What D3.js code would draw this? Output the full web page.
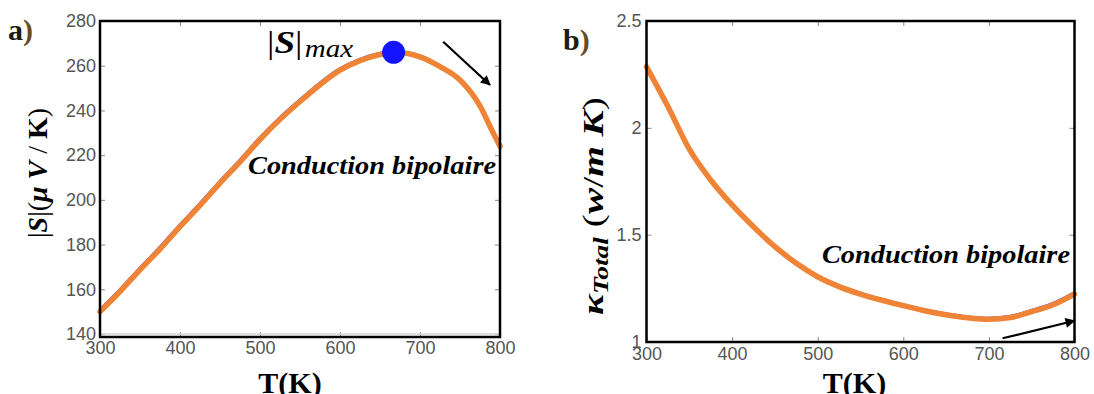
<!DOCTYPE html>
<html>
<head>
<meta charset="utf-8">
<script src="https://cdn.jsdelivr.net/npm/d3@7"></script>
<style>
  body { margin: 0; background: #fff; }
  svg { display: block; }
  .tick text { font-family: "Liberation Sans", Arial, sans-serif; font-size: 18px; fill: #555; }
  .tick line { stroke: #888; stroke-width: 1; }
</style>
</head>
<body>
<svg id="fig" width="1094" height="394"></svg>
<script>
// panel a) |S| vs T
const tempS = [300, 325, 350, 375, 400, 425, 450, 475, 500, 525, 550, 575, 600, 625, 650, 667, 700, 725, 750, 775, 790, 800];
const seebeck = [150, 159, 168.7, 178, 188, 197.5, 207.5, 217, 227, 236, 244, 251.5, 258, 262.3, 265, 266, 264, 259.6, 253.6, 242, 231, 224];
const sMax = [667, 266];
const arrowS = [[729, 270.7], [787.5, 251.4]];

// panel b) kappa total vs T
const tempKappa = [300, 325, 350, 375, 400, 425, 450, 475, 500, 525, 550, 575, 600, 625, 650, 675, 700, 725, 750, 775, 800];
const kappa = [2.286, 2.1, 1.9, 1.756, 1.639, 1.537, 1.444, 1.366, 1.303, 1.257, 1.222, 1.193, 1.168, 1.144, 1.125, 1.111, 1.104, 1.112, 1.14, 1.172, 1.222];
const arrowK = [[716, 1.015], [800, 1.097]];

const xTicks = [300, 400, 500, 600, 700, 800];
const yTicksS = [140, 160, 180, 200, 220, 240, 260, 280];
const yTicksK = [1, 1.5, 2, 2.5];

const svg = d3.select('#fig');
const defs = svg.append('defs');
defs.append('marker')
	.attr('id', 'arrowhead')
	.attr('viewBox', '0 0 10 10')
	.attr('refX', 9).attr('refY', 5)
	.attr('markerWidth', 11).attr('markerHeight', 10)
	.attr('markerUnits', 'userSpaceOnUse')
	.attr('orient', 'auto')
	.append('path')
		.attr('d', 'M0,0 L10,5 L0,10 z')
		.attr('fill', '#000');

const serif = '"Liberation Serif", "Times New Roman", serif';

const drawPanel = (cfg) => {
	const x = d3.scaleLinear().domain([300, 800]).range(cfg.xr);
	const y = d3.scaleLinear().domain(cfg.yd).range(cfg.yr);
	const g = svg.append('g');
	const [x0, x1] = cfg.xr;
	const top = cfg.yr[1], bottom = cfg.frameBottom;

	// ticks (matlab style, pointing inward)
	g.append('g')
		.attr('transform', `translate(0,${bottom})`)
		.call(d3.axisBottom(x).tickValues(xTicks).tickSize(-5).tickPadding(cfg.xPad).tickFormat(d3.format('')))
		.call(a => a.select('.domain').remove());
	g.append('g')
		.attr('transform', `translate(0,${top})`)
		.call(d3.axisTop(x).tickValues(xTicks).tickSize(-5).tickFormat(''))
		.call(a => a.select('.domain').remove());
	g.append('g')
		.attr('transform', `translate(${x0},0)`)
		.call(d3.axisLeft(y).tickValues(cfg.yTicks).tickSize(-5).tickPadding(cfg.yPad).tickFormat(d3.format('')))
		.call(a => a.select('.domain').remove());
	g.append('g')
		.attr('transform', `translate(${x1},0)`)
		.call(d3.axisRight(y).tickValues(cfg.yTicks).tickSize(-5).tickFormat(''))
		.call(a => a.select('.domain').remove());

	if (cfg.grayBase) {
		g.append('line')
			.attr('x1', x0).attr('x2', x1)
			.attr('y1', y(cfg.yd[0])).attr('y2', y(cfg.yd[0]))
			.attr('stroke', '#d4d4d4').attr('stroke-width', 1.5);
	}

	const line = d3.line().x(d => x(d[0])).y(d => y(d[1])).curve(d3.curveMonotoneX);
	const pts = cfg.temps.map((t, i) => [t, cfg.values[i]]);
	g.append('path')
		.attr('d', line(pts))
		.attr('fill', 'none')
		.attr('stroke', '#3a3aff')
		.attr('stroke-width', 2)
		.attr('transform', 'translate(-1,-1.5)');
	g.append('path')
		.attr('d', line(pts))
		.attr('fill', 'none')
		.attr('stroke', '#f08436')
		.attr('stroke-width', 5.5)
		.attr('stroke-linecap', 'round');

	// frame
	g.append('rect')
		.attr('x', x0).attr('y', top)
		.attr('width', x1 - x0).attr('height', bottom - top)
		.attr('fill', 'none')
		.attr('stroke', '#000')
		.attr('stroke-width', 2.5);

	// arrow
	g.append('line')
		.attr('x1', x(cfg.arrow[0][0])).attr('y1', y(cfg.arrow[0][1]))
		.attr('x2', x(cfg.arrow[1][0])).attr('y2', y(cfg.arrow[1][1]))
		.attr('stroke', '#000').attr('stroke-width', 2.2)
		.attr('marker-end', 'url(#arrowhead)');

	// annotation
	g.append('text')
		.attr('x', x(cfg.note[0])).attr('y', y(cfg.note[1]))
		.attr('font-family', serif)
		.attr('font-size', 26)
		.attr('font-weight', 'bold')
		.attr('font-style', 'italic')
		.attr('textLength', 248)
		.attr('lengthAdjust', 'spacingAndGlyphs')
		.text('Conduction bipolaire');

	// x label
	g.append('text')
		.attr('x', (x0 + x1) / 2 + cfg.xLabelShift).attr('y', 393)
		.attr('text-anchor', 'middle')
		.attr('font-family', serif)
		.attr('font-size', 30)
		.attr('font-weight', 'bold')
		.text('T(K)');

	// panel letter
	const letter = svg.append('text')
		.attr('x', cfg.letterPos[0]).attr('y', cfg.letterPos[1])
		.attr('font-family', serif)
		.attr('font-size', 30)
		.attr('font-weight', 'bold')
		.attr('fill', '#1e1a14');
	letter.append('tspan').text(cfg.letter);
	letter.append('tspan').attr('fill', '#6a4a22').text(')');

	return { x, y, g };
};

// ---- panel a
const pa = drawPanel({
	xr: [100, 500], yr: [334, 21], yd: [140, 280], frameBottom: 337,
	yTicks: yTicksS, xPad: 4, yPad: 4, grayBase: true,
	temps: tempS, values: seebeck, arrow: arrowS,
	note: [485, 211.4], xLabelShift: -10,
	letter: 'a', letterPos: [8, 40]
});

pa.g.append('circle')
	.attr('cx', pa.x(sMax[0])).attr('cy', pa.y(sMax[1]))
	.attr('r', 11.5)
	.attr('fill', '#1414ff');

const smaxLabel = pa.g.append('text')
	.attr('x', 267).attr('y', 53)
	.attr('font-family', serif)
	.attr('font-size', 32)
	.attr('textLength', 86)
	.attr('lengthAdjust', 'spacingAndGlyphs');
smaxLabel.append('tspan').text('|');
smaxLabel.append('tspan').attr('font-weight', 'bold').attr('font-style', 'italic').text('S');
smaxLabel.append('tspan').text('|');
smaxLabel.append('tspan').attr('font-style', 'italic').attr('font-size', 25).attr('dy', 4).attr('dx', 2).text('max');

const ylabA = svg.append('text')
	.attr('transform', 'translate(47,173) rotate(-90)')
	.attr('text-anchor', 'middle')
	.attr('font-family', serif)
	.attr('font-size', 28)
	.attr('font-weight', 'bold')
	.attr('textLength', 130)
	.attr('lengthAdjust', 'spacingAndGlyphs');
ylabA.append('tspan').attr('font-weight', 'normal').text('|');
ylabA.append('tspan').attr('font-style', 'italic').text('S');
ylabA.append('tspan').attr('font-weight', 'normal').text('|(');
ylabA.append('tspan').attr('font-style', 'italic').text('μ V');
ylabA.append('tspan').attr('font-weight', 'normal').text(' / ');
ylabA.append('tspan').text('K');
ylabA.append('tspan').attr('font-weight', 'normal').text(')');

// ---- panel b
const pb = drawPanel({
	xr: [646.5, 1074.5], yr: [341.5, 21], yd: [1, 2.5], frameBottom: 342,
	yTicks: yTicksK, xPad: 5, yPad: 5, grayBase: false,
	temps: tempKappa, values: kappa, arrow: arrowK,
	note: [505, 1.366], xLabelShift: -6,
	letter: 'b', letterPos: [563, 50]
});

const ylabB = svg.append('text')
	.attr('transform', 'translate(603,206) rotate(-90)')
	.attr('text-anchor', 'middle')
	.attr('font-family', serif)
	.attr('font-size', 30)
	.attr('font-weight', 'bold')
	.attr('textLength', 218)
	.attr('lengthAdjust', 'spacingAndGlyphs');
ylabB.append('tspan').attr('font-style', 'italic').text('κ');
ylabB.append('tspan').attr('font-style', 'italic').attr('font-size', 21).attr('dy', 5).text('Total');
ylabB.append('tspan').attr('dy', -5).attr('font-weight', 'normal').text('  (');
ylabB.append('tspan').attr('font-style', 'italic').text('w');
ylabB.append('tspan').attr('font-weight', 'normal').text('/');
ylabB.append('tspan').attr('font-style', 'italic').text('m K');
ylabB.append('tspan').attr('font-weight', 'normal').text(')');
</script>
</body>
</html>
